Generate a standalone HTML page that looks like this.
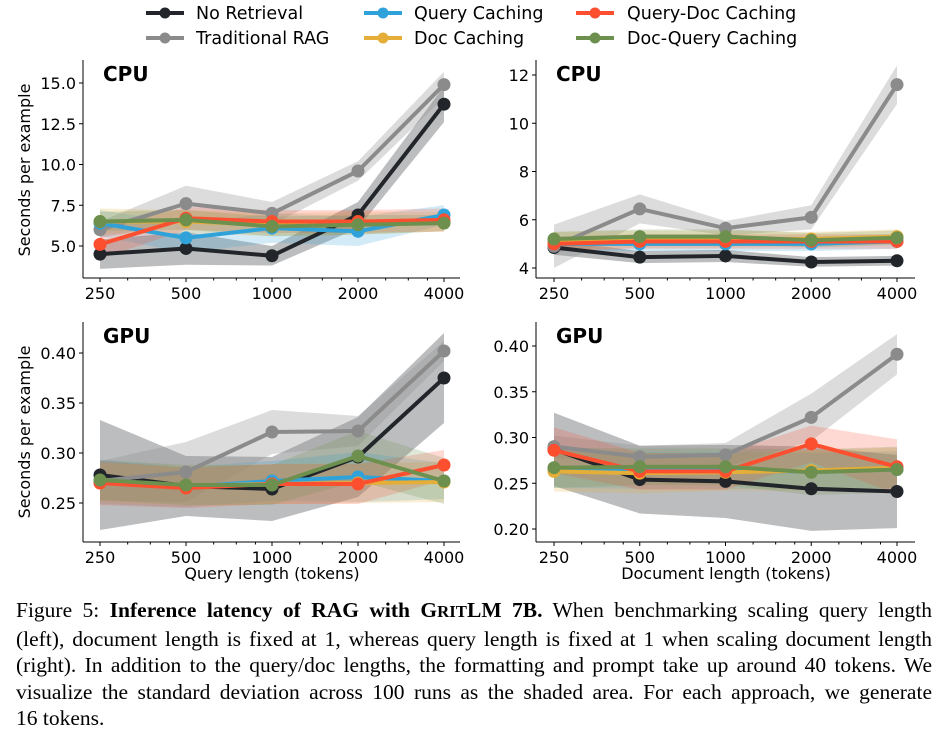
<!DOCTYPE html>
<html><head><meta charset="utf-8"><style>
body{margin:0;background:#fff;width:948px;height:740px;overflow:hidden;font-family:"DejaVu Sans","Liberation Sans",sans-serif}
#cap{position:absolute;left:16px;top:597px;width:916px;font-family:"Liberation Serif",serif;font-size:21.5px;line-height:26.5px;color:#000}
#cap div{text-align:justify;text-align-last:justify;white-space:nowrap}
#cap div.last{text-align-last:left}
.sc{font-size:0.78em}
</style></head><body>
<svg id="chart" width="948" height="595" style="position:absolute;left:0;top:0"></svg>
<div id="cap">
<div>Figure 5: <b>Inference latency of RAG with G<span class="sc">RIT</span>LM 7B.</b> When benchmarking scaling query length</div>
<div>(left), document length is fixed at 1, whereas query length is fixed at 1 when scaling document length</div>
<div>(right). In addition to the query/doc lengths, the formatting and prompt take up around 40 tokens. We</div>
<div>visualize the standard deviation across 100 runs as the shaded area. For each approach, we generate</div>
<div class="last">16 tokens.</div>
</div>
<script>
const xCats=[250,500,1000,2000,4000];
const seriesNames=["No Retrieval","Traditional RAG","Query Caching","Doc Caching","Query-Doc Caching","Doc-Query Caching"];
const colors=["#22262b","#8b8b8b","#30a2da","#e5ae38","#fc4f30","#6d904f"];
// top-left: CPU, query length
const tlMean=[[4.5,4.85,4.4,6.9,13.7],[6.0,7.6,7.0,9.6,14.9],[6.4,5.5,6.1,5.9,6.9],[6.5,6.5,6.3,6.4,6.5],[5.1,6.7,6.5,6.5,6.6],[6.5,6.6,6.2,6.3,6.4]];
const tlStd=[[0.9,1.0,0.6,0.8,1.1],[0.5,1.1,0.7,0.6,0.8],[0.8,0.9,0.9,0.9,0.6],[0.8,0.7,0.7,0.7,0.6],[0.9,0.7,0.7,0.7,0.7],[0.6,0.6,0.6,0.6,0.5]];
// top-right: CPU, doc length
const trMean=[[4.85,4.45,4.5,4.25,4.3],[4.9,6.45,5.65,6.1,11.6],[5.0,5.0,5.0,5.0,5.1],[5.1,5.2,5.2,5.2,5.3],[5.0,5.1,5.1,5.1,5.1],[5.2,5.3,5.3,5.15,5.25]];
const trStd=[[0.3,0.25,0.25,0.2,0.2],[0.9,0.6,0.3,0.5,0.8],[0.3,0.3,0.3,0.3,0.3],[0.4,0.35,0.35,0.3,0.3],[0.3,0.3,0.3,0.3,0.3],[0.3,0.3,0.3,0.3,0.3]];
// bottom-left: GPU, query length
const blMean=[[0.278,0.267,0.264,0.296,0.375],[0.272,0.281,0.321,0.322,0.402],[0.271,0.266,0.272,0.276,0.272],[0.270,0.267,0.269,0.270,0.271],[0.270,0.265,0.269,0.269,0.288],[0.273,0.268,0.268,0.297,0.272]];
const blStd=[[0.055,0.030,0.032,0.040,0.045],[0.020,0.030,0.022,0.015,0.010],[0.022,0.020,0.020,0.025,0.018],[0.020,0.020,0.020,0.020,0.020],[0.022,0.020,0.020,0.020,0.015],[0.020,0.020,0.020,0.025,0.023]];
// bottom-right: GPU, doc length
const brMean=[[0.287,0.254,0.252,0.244,0.241],[0.290,0.279,0.281,0.322,0.391],[0.265,0.264,0.264,0.263,0.265],[0.263,0.261,0.262,0.264,0.267],[0.286,0.263,0.263,0.293,0.268],[0.267,0.268,0.268,0.262,0.265]];
const brStd=[[0.040,0.037,0.040,0.046,0.040],[0.012,0.012,0.013,0.026,0.022],[0.020,0.020,0.020,0.020,0.020],[0.022,0.022,0.020,0.022,0.022],[0.025,0.020,0.020,0.020,0.030],[0.022,0.020,0.020,0.025,0.025]];
const yTicksTL=[5.0,7.5,10.0,12.5,15.0], yTicksTR=[4,6,8,10,12], yTicksBL=[0.25,0.30,0.35,0.40], yTicksBR=[0.20,0.25,0.30,0.35,0.40];
const xTickLabels=["250","500","1000","2000","4000"];

const NS="http://www.w3.org/2000/svg";
const svg=document.getElementById('chart');
function mk(tag,attrs,parent){const e=document.createElementNS(NS,tag);for(const k in attrs)e.setAttribute(k,attrs[k]);(parent||svg).appendChild(e);return e;}

function panel(cfg){
  const g=mk('g',{});
  
  
  const xs=v=>cfg.x0+Math.log2(v/250)*(cfg.x4-cfg.x0)/4;
  const ys=v=>cfg.py1+(v-cfg.v1)*(cfg.py2-cfg.py1)/(cfg.v2-cfg.v1);
  for(let s=0;s<6;s++){
    const m=cfg.mean[s],sd=cfg.std[s];
    let pts=xCats.map((c,i)=>xs(c)+','+ys(m[i]+sd[i]));
    pts=pts.concat(xCats.map((c,i)=>xs(c)+','+ys(m[i]-sd[i])).reverse());
    const p=mk('polygon',{points:pts.join(' '),fill:colors[s],'fill-opacity':s<2?0.3:0.22,stroke:'none'},g);
    
    
  }
  for(let s=0;s<6;s++){
    const m=cfg.mean[s];
    const l=mk('polyline',{points:xCats.map((c,i)=>xs(c)+','+ys(m[i])).join(' '),fill:'none',stroke:colors[s],'stroke-width':4,'stroke-linejoin':'round'},g);
    
    
    xCats.forEach((c,i)=>{
      const d=mk('circle',{cx:xs(c),cy:ys(m[i]),r:6.5,fill:colors[s]},g);
      
      
    });
  }
  mk('line',{x1:cfg.left,y1:cfg.top,x2:cfg.left,y2:cfg.bottom,stroke:'#000','stroke-width':1},g);
  mk('line',{x1:cfg.left,y1:cfg.bottom,x2:cfg.right,y2:cfg.bottom,stroke:'#000','stroke-width':1},g);
  cfg.yt.forEach(t=>{
    const y=ys(t);
    mk('line',{x1:cfg.left-4,y1:y,x2:cfg.left,y2:y,stroke:'#000'},g);
    const tx=mk('text',{x:cfg.left-7,y:y+6,'text-anchor':'end','font-size':16},g);
    tx.textContent=cfg.fmt(t);
    
    
  });
  xCats.forEach((c,i)=>{
    const x=xs(c);
    mk('line',{x1:x,y1:cfg.bottom,x2:x,y2:cfg.bottom+4,stroke:'#000'},g);
    const tx=mk('text',{x:x,y:cfg.bottom+21,'text-anchor':'middle','font-size':16},g);
    tx.textContent=xTickLabels[i];
    
    
  });
  for(let i=0;i<4;i++)for(const f of [1.25,1.5,1.75]){const x=xs(xCats[i]*f);mk('line',{x1:x,y1:cfg.bottom,x2:x,y2:cfg.bottom+2.5,stroke:'#000'},g);}
  const tt=mk('text',{x:cfg.left+20,y:cfg.top+21,'font-size':20,'font-weight':'bold'},g);
  tt.textContent=cfg.title;
  
  
}
panel({name:'panel-cpu-query',title:'CPU',mean:tlMean,std:tlStd,yt:yTicksTL,fmt:v=>v.toFixed(1),x0:100,x4:444,left:83,right:460,top:60,bottom:278,v1:5,py1:246,v2:15,py2:83});
panel({name:'panel-cpu-doc',title:'CPU',mean:trMean,std:trStd,yt:yTicksTR,fmt:v=>String(v),x0:554,x4:897,left:536,right:915,top:60,bottom:278,v1:4,py1:268,v2:12,py2:75});
panel({name:'panel-gpu-query',title:'GPU',mean:blMean,std:blStd,yt:yTicksBL,fmt:v=>v.toFixed(2),x0:100,x4:444,left:83,right:460,top:322,bottom:542,v1:0.25,py1:503,v2:0.40,py2:353});
panel({name:'panel-gpu-doc',title:'GPU',mean:brMean,std:brStd,yt:yTicksBR,fmt:v=>v.toFixed(2),x0:554,x4:897,left:536,right:915,top:322,bottom:542,v1:0.20,py1:529,v2:0.40,py2:346});

[[30,170],[30,432]].forEach(p=>{
  const t=mk('text',{x:p[0],y:p[1],'text-anchor':'middle','font-size':16,transform:'rotate(-90 '+p[0]+' '+p[1]+')'});
  t.textContent='Seconds per example';
  
  
});
[[272,579,'Query length (tokens)'],[726,579,'Document length (tokens)']].forEach(p=>{
  const t=mk('text',{x:p[0],y:p[1],'text-anchor':'middle','font-size':16});
  t.textContent=p[2];
  
  
});
const legX=[[146,196],[364,414],[576,627]];
const legOrder=[0,2,4,1,3,5];
legOrder.forEach((s,k)=>{
  const col=k%3,row=Math.floor(k/3);
  const y=13+row*25;
  const g=mk('g',{});
  
  
  mk('line',{x1:legX[col][0],y1:y,x2:legX[col][0]+38,y2:y,stroke:colors[s],'stroke-width':4},g);
  mk('circle',{cx:legX[col][0]+19,cy:y,r:5.5,fill:colors[s]},g);
  const t=mk('text',{x:legX[col][1],y:y+6,'font-size':17.5},g);
  t.textContent=seriesNames[s];
});
// fit caption lines
document.querySelectorAll('#cap div').forEach(d=>{
  let fs=21.5;
  while(d.scrollWidth>916 && fs>14){fs-=0.25;d.style.fontSize=fs+'px';}
});
</script>
</body></html>
